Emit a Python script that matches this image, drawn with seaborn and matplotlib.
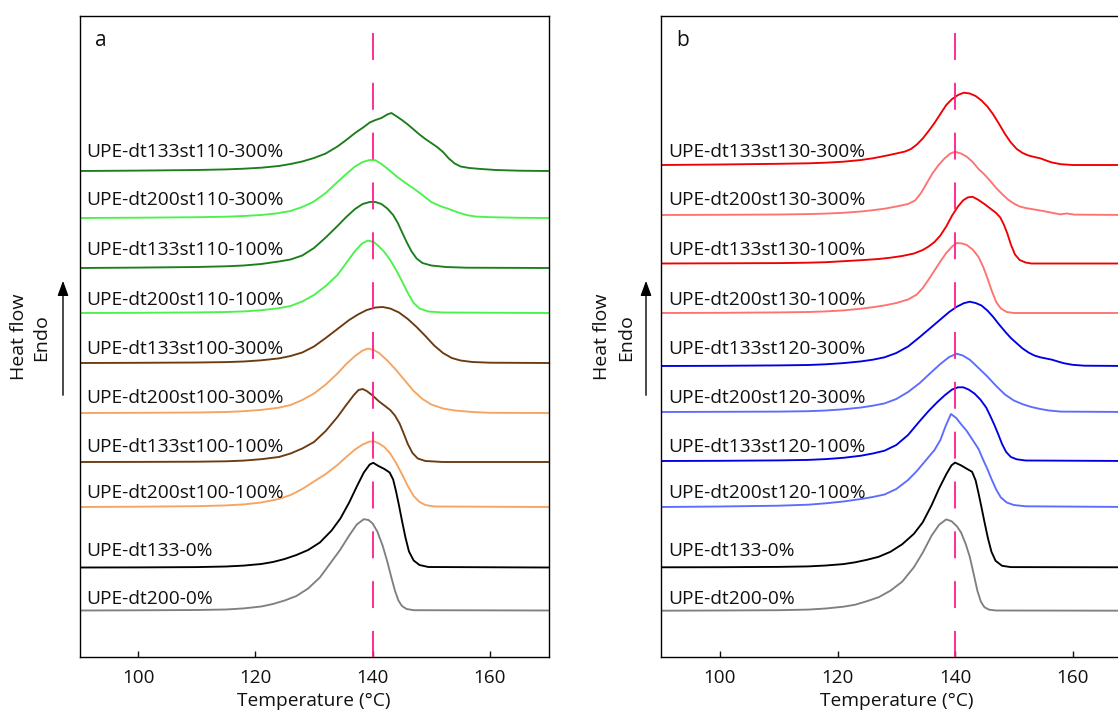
import numpy as np
import pandas as pd
import matplotlib
matplotlib.use("Agg")
import matplotlib.pyplot as plt
import seaborn as sns

# ---------------------------------------------------------------------------
# DSC melting curves: temperature (°C) and endothermic heat flow above the
# local baseline (arbitrary units); traces are stacked with vertical offsets.
# ---------------------------------------------------------------------------

# ----- Panel a -----
a_dt133st110_300_t = [90, 100, 110, 115, 118, 121, 124, 126, 128, 130, 132, 134, 135.5, 137, 138.5, 139.5, 140.5, 141.5, 142.5, 143.2, 144, 145, 146, 147, 148, 149, 150, 151, 152, 153, 154, 155, 156.5, 158.5, 161, 165, 170]
a_dt133st110_300_h = [0, 0.4, 1, 1.6, 2.3, 3.3, 5, 7, 9.5, 13, 17.5, 24.5, 31, 38, 44, 48.5, 51, 53, 56.5, 58, 55, 51, 46.5, 41.5, 36.5, 32, 28, 24, 19, 12.5, 7.5, 4.5, 3, 2, 1, 0.3, 0]

a_dt200st110_300_t = [90, 100, 110, 115, 118, 121, 123.5, 126, 128, 130, 132, 134, 135.5, 137, 138.3, 139.5, 140.5, 141.5, 142.5, 144, 145.5, 147, 148.5, 150, 151.5, 153, 154.5, 156, 157.5, 160, 165, 170]
a_dt200st110_300_h = [0, 0.3, 0.8, 1.3, 2, 3, 4.5, 7, 11, 16.5, 25, 36, 44, 51.5, 56, 58, 57.7, 54, 49.5, 42, 35.5, 29.5, 23, 16, 12, 9, 5.7, 3, 1.5, 0.8, 0.2, 0]

a_dt133st110_100_t = [90, 100, 110, 115, 118, 121, 124, 126, 128, 130, 132, 134, 135.5, 137, 138.3, 139.5, 140.5, 141.5, 142.5, 143.5, 144.3, 145, 145.8, 146.6, 147.5, 148.5, 150, 152.5, 156, 170]
a_dt133st110_100_h = [0, 0.4, 1, 1.7, 2.5, 4, 6.5, 8.5, 12.5, 20, 30.5, 42, 51, 59, 64, 66, 66, 64, 59.5, 53, 45, 36, 26, 17, 9.5, 5, 2.5, 1, 0.3, 0]

a_dt200st110_100_t = [90, 100, 110, 115, 118, 121, 124, 126, 128, 130, 132, 134, 135.5, 137, 138.2, 139.2, 140.2, 141, 142, 143, 144, 145, 146, 147, 148, 149.5, 152, 170]
a_dt200st110_100_h = [0, 0.2, 0.6, 1, 1.6, 2.8, 4.8, 7, 11.5, 18, 27, 38, 50, 62, 69.5, 72.5, 71, 67, 61, 53, 43, 32, 20, 10, 4.5, 1.5, 0.5, 0]

a_dt133st100_300_t = [90, 100, 110, 115, 118, 121, 124, 126, 128, 130, 132, 134, 136, 137.5, 139, 140.5, 141.7, 143, 144.5, 146, 147.5, 149, 150.5, 152, 153.5, 155, 157, 160, 170]
a_dt133st100_300_h = [0, 0.2, 0.5, 0.9, 1.5, 2.7, 4.6, 7, 10.5, 16.5, 25, 34, 43, 48.5, 53, 55.5, 56, 54.5, 50.5, 44, 36, 27, 17.5, 10, 5, 2.5, 1, 0.3, 0]

a_dt200st100_300_t = [90, 100, 110, 115, 118, 121, 124, 126, 128, 130, 132, 134, 135.5, 137, 138.3, 139.2, 140.2, 141.1, 142.5, 144, 145.5, 147, 148.5, 150, 152, 154, 157, 160, 170]
a_dt200st100_300_h = [0, 0.2, 0.5, 1, 1.8, 3.1, 5.3, 8, 13, 19.5, 28.5, 39.5, 49, 57, 62.5, 64.5, 63, 60, 52.5, 43, 32.5, 22, 14, 8.5, 4.5, 2.5, 1, 0.2, 0]

a_dt133st100_100_t = [90, 100, 110, 115, 118, 121, 124, 126, 128, 130, 132, 134, 135.5, 136.8, 137.6, 138.3, 139, 140, 141, 142, 143, 143.8, 144.6, 145.3, 146, 146.8, 147.7, 149, 152, 170]
a_dt133st100_100_h = [0, 0.1, 0.3, 0.7, 1.4, 2.8, 5, 8.5, 13.5, 20, 31, 45, 57, 67, 72, 73, 71, 66.5, 61, 56.5, 52, 46.5, 38.5, 28.5, 18, 9, 3.5, 1, 0, 0]

a_dt200st100_100_t = [90, 100, 110, 115, 118, 121, 124, 126, 128, 130, 132, 134, 135.5, 137, 138.3, 139.5, 140.3, 141.1, 142, 143, 144, 145, 146, 147, 148, 149, 150.5, 170]
a_dt200st100_100_h = [0, 0.3, 0.8, 1.6, 2.6, 4.5, 8, 12, 18, 25.5, 33, 42, 50, 57.5, 62.5, 65.5, 65.5, 63.5, 60, 53.5, 44, 33, 21, 11, 5, 2, 0.5, 0]

a_dt133_0_t = [90, 100, 110, 115, 118, 121, 123, 125, 127, 129, 131, 133, 134.5, 136, 137.3, 138.5, 139.5, 140.1, 141, 142, 142.9, 143.5, 144, 144.5, 145, 145.6, 146.2, 147, 148, 149.5, 170]
a_dt133_0_h = [0, 0.1, 0.4, 1, 1.9, 3.5, 5.5, 8.5, 12.5, 17.5, 25, 37, 49, 65, 81, 95, 103, 104.7, 101.5, 98.5, 95, 88, 76, 62, 47, 30, 16, 7, 2.5, 0.5, 0]

a_dt200_0_t = [90, 100, 110, 115, 118, 121, 123, 125, 127, 129, 131, 133, 134.5, 136, 137.3, 138.5, 139.3, 140, 140.8, 141.7, 142.5, 143.2, 143.8, 144.4, 145, 145.8, 147, 170]
a_dt200_0_h = [0, 0.2, 0.5, 1, 2.1, 4, 6.5, 10, 14.5, 22, 33, 49, 61, 75, 86, 91.3, 90.5, 87, 79, 65, 49, 33, 20, 10, 4.5, 1.5, 0.3, 0]

# ----- Panel b -----
b_dt133st130_300_t = [90, 100, 110, 115, 118, 121, 124, 126, 128, 130, 131.5, 132.5, 133.5, 134.5, 135.5, 136.5, 137.5, 138.5, 139.5, 140.5, 141.5, 142.5, 143.5, 144.5, 145.5, 146.5, 147.5, 148.5, 149.5, 150.5, 151.5, 152.5, 153.5, 154.5, 155.5, 156.5, 158, 160, 170]
b_dt133st130_300_h = [0, 0.5, 1.2, 1.7, 2.3, 3.3, 5, 6.7, 9, 11.5, 13.5, 16, 20.5, 26.5, 34, 42, 51, 60, 66, 70, 72.3, 71.5, 69, 64.5, 58.5, 50.5, 41, 31, 22.5, 16, 12, 9.5, 8, 6.7, 4.5, 2.5, 0.8, 0, 0]

b_dt200st130_300_t = [90, 100, 110, 115, 118, 121, 124, 126, 128, 130, 132, 133.2, 134.2, 135.2, 136.2, 137.2, 138.2, 139.2, 140, 141, 142, 143, 144, 145, 146, 147, 148, 149, 150, 151, 152, 153.5, 155, 156.5, 157.9, 159, 160.3, 162, 170]
b_dt200st130_300_h = [0, 0.2, 0.5, 0.9, 1.4, 2.2, 3.5, 4.8, 6.3, 8.5, 11, 14.5, 22, 32, 42, 50, 56.5, 61.5, 63.3, 61.5, 58.3, 53, 46, 40.5, 34, 27, 21, 15.5, 11.5, 8.5, 7, 5.5, 4, 2.2, 0.6, 1.5, 0.4, 0.3, 0]

b_dt133st130_100_t = [90, 100, 110, 115, 118, 121, 124, 127, 129, 131, 133, 134.5, 135.5, 136.5, 137.5, 138.5, 139.5, 140.5, 141.4, 142.2, 143, 144, 145, 146, 147, 147.7, 148.3, 148.9, 149.5, 150.2, 151, 152, 153, 170]
b_dt133st130_100_h = [0, 0.2, 0.4, 0.8, 1.3, 2.3, 3.3, 4.5, 5.8, 7.5, 10, 13.5, 17, 21.5, 28, 37, 48, 57, 63.3, 66.2, 66.7, 63.5, 59.5, 55, 50.5, 46, 39, 30, 19, 9, 3.5, 1, 0, 0]

b_dt200st130_100_t = [90, 100, 110, 115, 118, 121, 124, 126, 128, 130, 132, 133.5, 134.5, 135.5, 136.5, 137.5, 138.5, 139.5, 140.3, 141.2, 142, 143, 144, 144.8, 145.5, 146.2, 147, 147.8, 148.8, 150, 170]
b_dt200st130_100_h = [0, 0.2, 0.6, 1, 1.6, 2.6, 4.3, 5.8, 7.6, 10, 13.5, 18.5, 25, 33.5, 42.5, 51.5, 60, 66.5, 70, 69.5, 68, 63.5, 56, 46, 35, 23, 11, 4.5, 1, 0, 0]

b_dt133st120_300_t = [90, 100, 110, 115, 118, 121, 124, 126, 128, 130, 132, 134, 136, 137.5, 139, 140.3, 141.5, 142.5, 143.5, 144.5, 145.5, 146.5, 147.5, 148.5, 149.5, 150.5, 151.5, 152.5, 153.5, 154.5, 155.5, 156.5, 157.5, 158.5, 160, 162, 170]
b_dt133st120_300_h = [0, 0.2, 0.6, 1, 1.7, 2.9, 4.6, 6.3, 8.7, 13, 19.5, 29, 39, 46.5, 54, 59.3, 62.8, 64.3, 63, 60.5, 55.5, 49, 41.5, 34.5, 28, 22.7, 17.5, 13.5, 10.5, 8.7, 7.5, 6.3, 4.5, 2.8, 1.2, 0.3, 0]

b_dt200st120_300_t = [90, 100, 110, 115, 118, 121, 124, 126, 128, 130, 132, 134, 136, 137.5, 139, 140.3, 141.3, 142.5, 144, 145.5, 147, 148.5, 150, 151.5, 153, 154.5, 156, 158, 170]
b_dt200st120_300_h = [0, 0.2, 0.4, 0.8, 1.5, 2.7, 4.5, 6.3, 8.6, 13, 20, 29, 40, 48, 55, 58.3, 56.5, 52.3, 44, 35.5, 26, 17.5, 11.5, 7.8, 5, 3, 1.5, 0.4, 0]

b_dt133st120_100_t = [90, 100, 110, 115, 118, 121, 124, 126, 128, 130, 132, 134, 135.5, 137, 138.3, 139.5, 140.5, 141.4, 142.3, 143.3, 144.3, 145.3, 146, 146.7, 147.3, 148, 148.7, 149.5, 150.5, 152, 170]
b_dt133st120_100_h = [0, 0.2, 0.6, 1.1, 1.9, 3.2, 5.3, 7.5, 10.3, 16, 26, 40, 50, 59, 66, 71.5, 73.7, 73.7, 71.5, 67.5, 61.5, 53.5, 45, 36, 27.5, 17, 9, 4, 1.7, 0.5, 0]

b_dt200st120_100_t = [90, 100, 110, 115, 118, 121, 124, 126, 128, 130, 132, 133.5, 134.5, 135.5, 136.5, 137.5, 138.4, 139.3, 140.2, 141, 142, 143, 144, 144.8, 145.5, 146.2, 147, 147.8, 148.8, 150, 152, 170]
b_dt200st120_100_h = [0, 0.5, 1.3, 2.3, 3.7, 5.5, 8, 10, 12.5, 18, 27, 36, 43, 50, 57, 67, 81, 93, 89, 83, 76, 67, 58, 47, 38, 28, 17.5, 9.5, 4.5, 2, 0.7, 0]

b_dt133_0_t = [90, 100, 110, 115, 118, 121, 123, 125, 127, 129, 131, 133, 134.5, 136, 137.3, 138.5, 139.4, 140, 141, 142, 142.9, 143.5, 144, 144.5, 145, 145.6, 146.2, 146.9, 148, 149.5, 170]
b_dt133_0_h = [0, 0.1, 0.4, 0.9, 1.8, 3.2, 5, 7.5, 10.5, 15.5, 23, 33.5, 45, 62, 79, 93, 102, 104.7, 102, 98.5, 95.5, 87, 74, 60, 45.5, 29, 15.5, 6.5, 1.5, 0.2, 0]

b_dt200_0_t = [90, 100, 110, 115, 118, 121, 123, 125, 127, 129, 131, 133, 134.5, 136, 137.3, 138.5, 139.4, 140.3, 141, 141.8, 142.5, 143.2, 143.8, 144.4, 145, 145.8, 147, 170]
b_dt200_0_h = [0, 0.2, 0.5, 1.1, 2.2, 4, 6, 9.5, 13.5, 20, 29, 43.5, 58, 75, 86, 91.3, 89.5, 84.5, 78.5, 67, 54, 36, 20, 9, 3.5, 1, 0.2, 0]

labels_a = ["UPE-dt133st110-300%", "UPE-dt200st110-300%", "UPE-dt133st110-100%",
            "UPE-dt200st110-100%", "UPE-dt133st100-300%", "UPE-dt200st100-300%",
            "UPE-dt133st100-100%", "UPE-dt200st100-100%", "UPE-dt133-0%", "UPE-dt200-0%"]
labels_b = ["UPE-dt133st130-300%", "UPE-dt200st130-300%", "UPE-dt133st130-100%",
            "UPE-dt200st130-100%", "UPE-dt133st120-300%", "UPE-dt200st120-300%",
            "UPE-dt133st120-100%", "UPE-dt200st120-100%", "UPE-dt133-0%", "UPE-dt200-0%"]

# vertical offsets of each trace (stacking)
offsets_a = [486, 439, 389, 344, 294, 244, 195, 150, 89.5, 46.5]
offsets_b = [492, 442, 393.5, 344, 291, 245, 196, 150, 89.7, 46.3]

curves_a = [(a_dt133st110_300_t, a_dt133st110_300_h), (a_dt200st110_300_t, a_dt200st110_300_h),
            (a_dt133st110_100_t, a_dt133st110_100_h), (a_dt200st110_100_t, a_dt200st110_100_h),
            (a_dt133st100_300_t, a_dt133st100_300_h), (a_dt200st100_300_t, a_dt200st100_300_h),
            (a_dt133st100_100_t, a_dt133st100_100_h), (a_dt200st100_100_t, a_dt200st100_100_h),
            (a_dt133_0_t, a_dt133_0_h), (a_dt200_0_t, a_dt200_0_h)]
curves_b = [(b_dt133st130_300_t, b_dt133st130_300_h), (b_dt200st130_300_t, b_dt200st130_300_h),
            (b_dt133st130_100_t, b_dt133st130_100_h), (b_dt200st130_100_t, b_dt200st130_100_h),
            (b_dt133st120_300_t, b_dt133st120_300_h), (b_dt200st120_300_t, b_dt200st120_300_h),
            (b_dt133st120_100_t, b_dt133st120_100_h), (b_dt200st120_100_t, b_dt200st120_100_h),
            (b_dt133_0_t, b_dt133_0_h), (b_dt200_0_t, b_dt200_0_h)]

colors_a = ["#1b7d1b", "#4cf24c", "#1b7d1b", "#4cf24c", "#6b3a10",
            "#f5a461", "#6b3a10", "#f5a461", "#000000", "#808080"]
colors_b = ["#f00000", "#ff7272", "#f00000", "#ff7272", "#0000e6",
            "#5c6cff", "#0000e6", "#5c6cff", "#000000", "#808080"]

# label heights (same layout on both panels)
label_y = [505, 457, 407, 357, 308, 259, 210, 164, 106, 58]

x_ticks = [100, 120, 140, 160]
ref_temp = 140

# ---------------------------------------------------------------------------
sns.set_theme(style="white")
plt.rcParams["font.family"] = ["Open Sans", "DejaVu Sans"]

W, H = 1118, 711
fig = plt.figure(figsize=(W / 100, H / 100), dpi=100)
TXT = "#111111"


def build_frame(curves, labels, offsets):
    rows = []
    for (t, h), name, off in zip(curves, labels, offsets):
        for ti, hi in zip(t, h):
            rows.append({"T": ti, "y": off + hi, "sample": name})
    return pd.DataFrame(rows)


def draw_panel(rect, curves, labels, offsets, colors, letter):
    ax = fig.add_axes(rect)
    df = build_frame(curves, labels, offsets)
    sns.lineplot(data=df, x="T", y="y", hue="sample", hue_order=labels,
                 palette=dict(zip(labels, colors)), estimator=None, sort=False,
                 legend=False, linewidth=1.35, ax=ax)
    # reference temperature
    ax.plot([ref_temp, ref_temp], [624, 0], color="#ff1a8c", linewidth=1.3,
            dashes=(14.9, 12.7), zorder=5)
    for name, ly in zip(labels, label_y):
        ax.text(91.2, ly, name, fontsize=13.8, va="center", ha="left", color=TXT)
    ax.text(92.6, 617, letter, fontsize=15, va="center", ha="left", color=TXT)
    ax.set_xlim(90, 170)
    ax.set_ylim(0, 641)
    ax.set_xticks(x_ticks)
    ax.set_yticks([])
    ax.set_xlabel("Temperature (°C)", fontsize=13.8, labelpad=3.5, color=TXT)
    ax.set_ylabel("")
    ax.tick_params(axis="x", direction="in", length=4, width=1, bottom=True, top=False,
                   labelsize=13.6, pad=8.5, colors=TXT)
    for s in ax.spines.values():
        s.set_color("black")
        s.set_linewidth(1.0)
        s.set_visible(True)
    return ax


ax_a = draw_panel([79.5 / W, 54 / H, 469 / W, 641 / H], curves_a, labels_a, offsets_a, colors_a, "a")
ax_b = draw_panel([661.3 / W, 54 / H, 470 / W, 641 / H], curves_b, labels_b, offsets_b, colors_b, "b")

# y-axis captions with "Endo" arrow
for x_hf, x_en, x_ar in [(19, 41, 63), (602, 626, 646)]:
    fig.text(x_hf / W, 1 - 337 / H, "Heat flow", rotation=90, ha="center", va="center",
             fontsize=14, color=TXT)
    fig.text(x_en / W, 1 - 338 / H, "Endo", rotation=90, ha="center", va="center",
             fontsize=14, color=TXT)
    fig.add_artist(matplotlib.patches.FancyArrowPatch(
        (x_ar / W, 1 - 398 / H), (x_ar / W, 1 - 278 / H), transform=fig.transFigure,
        arrowstyle="-|>,head_length=6,head_width=2.2", color="black", linewidth=1.0,
        mutation_scale=1.5))

fig.savefig("out.png", dpi=100, facecolor="white")
